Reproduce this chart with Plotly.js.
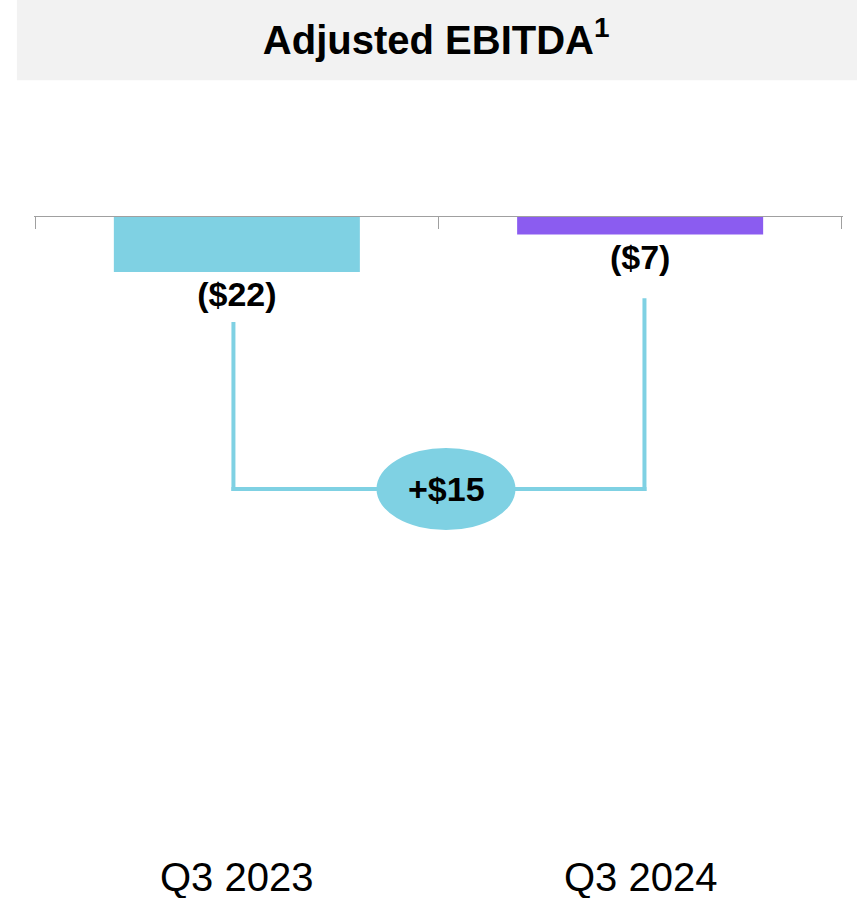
<!DOCTYPE html>
<html>
<head>
<meta charset="utf-8">
<script src="https://cdn.plot.ly/plotly-3.0.1.min.js"></script>
<style>html,body{margin:0;padding:0;background:#fff;}#chart{width:857px;height:898px;}</style>
</head>
<body>
<div id="chart"></div>
<script>
// ---- data ----
const categories = ['Q3 2023', 'Q3 2024'];
const ebitda = [-22, -7];           // $ millions
const barColors = ['#7FD1E3', '#8B5CF0'];
const titleText = 'Adjusted EBITDA<sup>1</sup>';

// ---- derived ----
const fmt = v => v < 0 ? '($' + Math.abs(v) + ')' : '$' + v;
const labels = ebitda.map(v => '<b>' + fmt(v) + '</b>');
const delta = ebitda[1] - ebitda[0];
const deltaText = '<b>' + (delta >= 0 ? '+$' : '-$') + Math.abs(delta) + '</b>';

const lineColor = '#7FD1E3';
// connector geometry in data units (below the labels)
const leftTop = ebitda[0] - 20;
const rightTop = ebitda[1] - 25.5;
const bridgeY = -108.8;
const leftX = 0 - 0.0085;
const rightX = 1 + 0.0107;

const trace = {
  type: 'bar',
  x: categories,
  y: ebitda,
  marker: {color: barColors},
  text: labels,
  textposition: 'outside',
  textfont: {family: 'Liberation Sans, Arial, sans-serif', size: 34, color: '#000'},
  cliponaxis: false,
  hoverinfo: 'skip'
};

const connLine = {color: lineColor, width: 4};

const layout = {
  width: 857, height: 898,
  margin: {l: 34, r: 14, t: 217, b: 56},
  paper_bgcolor: '#fff', plot_bgcolor: '#fff',
  showlegend: false,
  bargap: 0.39,
  title: {
    text: titleText,
    font: {family: 'Liberation Sans, Arial, sans-serif', size: 40, color: '#000', weight: 'bold'},
    x: 0.509, xref: 'container', xanchor: 'center',
    y: 1 - 40/898, yref: 'container', yanchor: 'middle'
  },
  xaxis: {
    type: 'category', side: 'top', range: [-0.503, 1.503],
    showline: true, linecolor: '#A0A0A0', linewidth: 1.3,
    ticks: 'inside', ticklen: 12, tickcolor: '#A0A0A0', tickwidth: 1.3,
    tickson: 'boundaries', showticklabels: false, showgrid: false, zeroline: false,
    fixedrange: true
  },
  yaxis: {range: [-250, 0], visible: false, fixedrange: true},
  shapes: [
    {type: 'rect', xref: 'paper', yref: 'paper', x0: -0.0211, x1: 1.0186, y0: 1.219, y1: 1.36,
     fillcolor: '#F2F2F2', line: {width: 0}, layer: 'below'},
    {type: 'line', xref: 'x', yref: 'y', x0: leftX, x1: leftX, y0: leftTop, y1: bridgeY - 0.8, line: connLine},
    {type: 'line', xref: 'x', yref: 'y', x0: leftX - 0.005, x1: rightX + 0.005, y0: bridgeY, y1: bridgeY, line: connLine},
    {type: 'line', xref: 'x', yref: 'y', x0: rightX, x1: rightX, y0: rightTop, y1: bridgeY - 0.8, line: connLine},
    {type: 'circle', xref: 'x', yref: 'y', xsizemode: 'pixel', ysizemode: 'pixel',
     xanchor: 0.5, yanchor: bridgeY, x0: -62, x1: 77, y0: -41, y1: 41,
     fillcolor: lineColor, line: {width: 0}, layer: 'above'}
  ],
  annotations: [
    {x: 0.5, y: bridgeY, xref: 'x', yref: 'y', text: deltaText, showarrow: false,
     xshift: 8, font: {family: 'Liberation Sans, Arial, sans-serif', size: 34, color: '#000'}}
  ].concat(categories.map(c => ({
    x: c, xref: 'x', y: 0, yref: 'paper', yshift: -35, yanchor: 'middle',
    text: c, showarrow: false,
    font: {family: 'Liberation Sans, Arial, sans-serif', size: 40, color: '#000'}
  })))
};

Plotly.newPlot('chart', [trace], layout, {displayModeBar: false, staticPlot: true});
</script>
</body>
</html>
